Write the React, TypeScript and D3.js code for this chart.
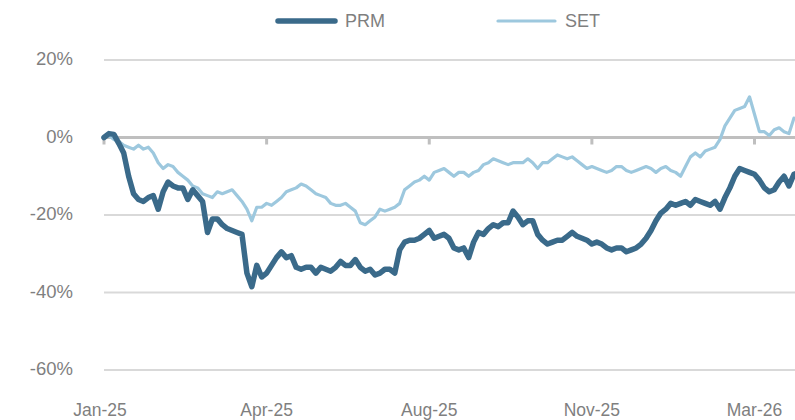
import React, { useEffect, useRef } from "react";
import * as d3 from "d3";

// cumulative return, % (one point per trading step)
const prmValues = [
  0, 1, 0.8, -1.5, -4, -10, -14.5, -16, -16.5, -15.5,
  -15, -18.5, -14, -11.5, -12.5, -13, -13, -16, -13.5, -15,
  -16.5, -24.5, -21, -21, -22.5, -23.5, -24, -24.5, -25, -35,
  -38.5, -33, -36, -35, -33, -31, -29.5, -31, -30.5, -33.5,
  -34, -33.5, -33.5, -35, -33.5, -34, -34.5, -33.5, -32, -33,
  -33, -31.5, -33.5, -34.5, -34, -35.5, -35, -34, -34, -35,
  -29, -27, -26.5, -26.5, -26, -25, -24, -26, -25.5, -25,
  -26, -28.5, -29, -28.5, -31, -27, -24.5, -25, -23.5, -22.5,
  -23, -22, -22, -19, -20.5, -22.5, -21.5, -21.5, -25, -26.5,
  -27.5, -27, -26.5, -26.5, -25.5, -24.5, -25.5, -26, -26.5, -27.5,
  -27, -27.5, -28.5, -29, -28.5, -28.5, -29.5, -29, -28.5, -27.5,
  -26, -24, -21.5, -19.5, -18.5, -17, -17.5, -17, -16.5, -17.5,
  -16, -16.5, -17, -17.5, -16.5, -18.5, -15.5, -13, -10, -8,
  -8.5, -9, -9.5, -11, -13, -14, -13.5, -11.5, -10, -12.5,
  -9.5, -9,
];

const setValues = [
  0, 0.5, -0.5, -1, -2, -2.5, -3, -2, -3, -2.5,
  -4, -6.5, -8, -7, -7.5, -9, -10, -11, -12.5, -13,
  -14.5, -15, -15.5, -14, -14.5, -14, -13.5, -15, -16.5, -18.5,
  -21.5, -18, -18, -17, -17.5, -16.5, -15.5, -14, -13.5, -13,
  -12, -12.5, -13.5, -14.5, -15, -15.5, -17, -17.5, -17.5, -17,
  -18, -19, -22, -22.5, -21.5, -20.5, -18.5, -19, -18.5, -18,
  -17, -13.5, -12.5, -11.5, -11, -10, -11, -9, -8.5, -8,
  -9, -10, -9, -9, -10, -9, -8.5, -7, -6.5, -5.5,
  -6, -6.5, -7, -6.5, -6.5, -6.5, -5.5, -6.5, -8, -6.5,
  -6.5, -5.5, -4.5, -5, -5.5, -5, -6, -7, -8, -7.5,
  -8, -8.5, -9, -8.5, -7.5, -7.5, -8.5, -9, -8.5, -8,
  -7.5, -8, -9, -8, -7.5, -8.5, -9, -10, -7.5, -5,
  -4, -5, -3.5, -3, -2.5, -0.5, 3, 5, 7, 7.5,
  8, 10.5, 6, 1.5, 1.5, 0.5, 2, 2.5, 1.5, 1,
  5, 4.5,
];

const seriesNames = ["PRM", "SET"];
const xTickLabels = ["Jan-25", "Apr-25", "Aug-25", "Nov-25", "Mar-26"];
const xTickEvery = 33; // points between month labels
const yTicks = [20, 0, -20, -40, -60];

const App = () => {
  const chartRef = useRef<SVGSVGElement | null>(null);

  useEffect(() => {
    const width = 795;
    const height = 420;
    const left = 104;
    const fontFamily = "'Liberation Sans', Arial, sans-serif";
    const textColor = "#7f7f7f";
    const colors = ["#3a6a8a", "#9dc8de"];
    const widths = [5.5, 3.2];

    const svg = d3.select(chartRef.current);
    svg.selectAll("*").remove();
    svg.attr("width", width).attr("height", height);

    const x = d3
      .scaleLinear()
      .domain([0, xTickEvery * 4])
      .range([left, 754.5]);
    const y = d3.scaleLinear().domain([-60, 20]).range([370, 60]);

    // gridlines
    svg
      .append("g")
      .selectAll("line")
      .data(yTicks.filter((t) => t !== 0))
      .enter()
      .append("line")
      .attr("x1", left)
      .attr("x2", width)
      .attr("y1", (d) => y(d))
      .attr("y2", (d) => y(d))
      .attr("stroke", "#d9d9d9")
      .attr("stroke-width", 2);

    // y labels
    svg
      .append("g")
      .selectAll("text")
      .data(yTicks)
      .enter()
      .append("text")
      .attr("x", 73)
      .attr("y", (d) => y(d) - 1)
      .attr("dy", "0.35em")
      .attr("text-anchor", "end")
      .style("font-family", fontFamily)
      .style("font-size", "18.5px")
      .style("fill", textColor)
      .text((d) => `${d}%`);

    // zero axis with category ticks
    const axis = svg.append("g");
    axis
      .append("line")
      .attr("x1", left)
      .attr("x2", width)
      .attr("y1", y(0))
      .attr("y2", y(0))
      .attr("stroke", "#bfbfbf")
      .attr("stroke-width", 3);
    axis
      .selectAll("line.tick")
      .data(xTickLabels)
      .enter()
      .append("line")
      .attr("class", "tick")
      .attr("x1", (_d, i) => x(i * xTickEvery))
      .attr("x2", (_d, i) => x(i * xTickEvery))
      .attr("y1", y(0))
      .attr("y2", y(0) + 7)
      .attr("stroke", "#bfbfbf")
      .attr("stroke-width", 3);

    // x labels
    svg
      .append("g")
      .selectAll("text")
      .data(xTickLabels)
      .enter()
      .append("text")
      .attr("x", (_d, i) => x(i * xTickEvery) - (i === 0 ? 4 : 0))
      .attr("y", 416)
      .attr("text-anchor", "middle")
      .style("font-family", fontFamily)
      .style("font-size", "17.5px")
      .style("fill", textColor)
      .text((d) => d);

    // lines: SET first, PRM on top
    const line = d3
      .line<number>()
      .x((_d, i) => x(i))
      .y((d) => y(d));

    [setValues, prmValues].forEach((vals, k) => {
      const idx = k === 0 ? 1 : 0;
      svg
        .append("path")
        .datum(vals)
        .attr("d", line)
        .attr("fill", "none")
        .attr("stroke", colors[idx])
        .attr("stroke-width", widths[idx])
        .attr("stroke-linejoin", "round")
        .attr("stroke-linecap", "round");
    });

    // legend
    const legendX = [278, 498];
    const legend = svg.append("g");
    seriesNames.forEach((name, i) => {
      legend
        .append("line")
        .attr("x1", legendX[i])
        .attr("x2", legendX[i] + 57)
        .attr("y1", 21)
        .attr("y2", 21)
        .attr("stroke", colors[i])
        .attr("stroke-width", widths[i])
        .attr("stroke-linecap", "round");
      legend
        .append("text")
        .attr("x", legendX[i] + 67)
        .attr("y", 21)
        .attr("dy", "0.35em")
        .style("font-family", fontFamily)
        .style("font-size", "18px")
        .style("fill", textColor)
        .text(name);
    });
  }, []);

  return (
    <svg
      ref={chartRef}
      style={{ position: "absolute", left: 0, top: 0, background: "#fff" }}
    />
  );
};

export default App;
